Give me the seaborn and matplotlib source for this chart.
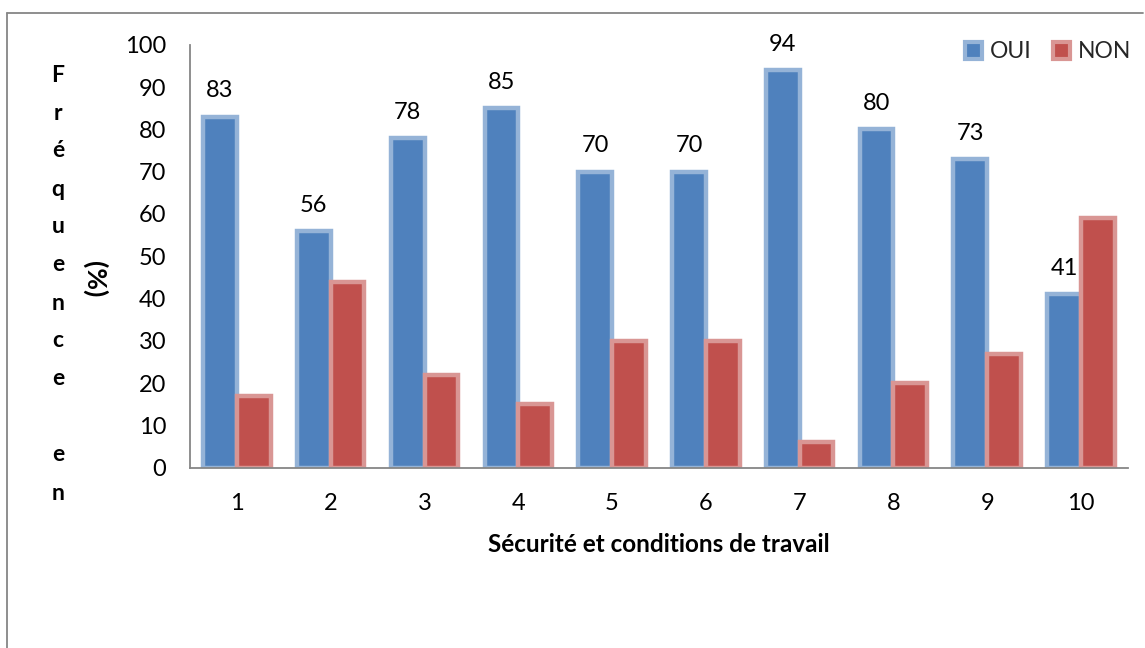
import matplotlib
matplotlib.use("Agg")
import matplotlib.pyplot as plt
import seaborn as sns
import pandas as pd
from matplotlib.patches import Rectangle
from matplotlib.lines import Line2D

# --- data ---------------------------------------------------------------
categories = ["1", "2", "3", "4", "5", "6", "7", "8", "9", "10"]
series = ["OUI", "NON"]
oui = [83, 56, 78, 85, 70, 70, 94, 80, 73, 41]
non = [17, 44, 22, 15, 30, 30, 6, 20, 27, 59]
yticks = [0, 10, 20, 30, 40, 50, 60, 70, 80, 90, 100]
xlabel = "Sécurité et conditions de travail"
ylabel_letters = list("Fréquence") + [""] + list("en")
ylabel_unit = "(%)"

# --- styling ------------------------------------------------------------
fill_colors = ["#4F81BD", "#C0504D"]
edge_colors = ["#95B3D7", "#D99694"]
axis_grey = "#868686"

df = pd.DataFrame({
    "Catégorie": categories * 2,
    "Réponse": [series[0]] * len(oui) + [series[1]] * len(non),
    "Fréquence": oui + non,
})

sns.set_theme(style="white")
plt.rcParams["font.family"] = ["Lato", "DejaVu Sans"]

fig = plt.figure(figsize=(11.45, 6.48), dpi=100)
ax = fig.add_axes([0.166, 0.278, 0.819, 0.653])

sns.barplot(
    data=df, x="Catégorie", y="Fréquence", hue="Réponse",
    order=categories, hue_order=series, palette=fill_colors,
    width=0.72, saturation=1, linewidth=3.2, legend=False, ax=ax,
)
for cont, ec in zip(ax.containers, edge_colors):
    for bar in cont:
        bar.set_edgecolor(ec)

# value labels above the OUI bars
ax.bar_label(ax.containers[0], labels=[str(v) for v in oui],
             padding=11, fontsize=17, color="black")

ax.set_ylim(0, 100)
ax.set_yticks(yticks)
ax.set_xlim(-0.5, len(categories) - 0.5)
ax.tick_params(axis="both", length=0, labelsize=17, colors="black")
ax.tick_params(axis="y", pad=17)
ax.tick_params(axis="x", pad=18)

for side in ["top", "right"]:
    ax.spines[side].set_visible(False)
for side in ["left", "bottom"]:
    ax.spines[side].set_color(axis_grey)
    ax.spines[side].set_linewidth(1.3)

ax.set_xlabel(xlabel, fontsize=17.5, fontweight="bold", labelpad=14, color="black")
ax.set_ylabel("")

# stacked vertical axis title
y_top, step = 1 - 75 / 648, 38 / 648
for i, ch in enumerate(ylabel_letters):
    fig.text(0.0507, y_top - i * step, ch, ha="center", va="center",
             fontsize=16.5, fontweight="bold", color="black")
fig.text(0.083, 1 - 279 / 648, ylabel_unit, ha="center", va="center",
         rotation=-90, fontsize=19, fontweight="bold", color="black")

# legend
handles = [Rectangle((0, 0), 1, 1, facecolor=fc, edgecolor=ec, linewidth=3)
           for fc, ec in zip(fill_colors, edge_colors)]
fig.legend(handles, series, loc="center right", bbox_to_anchor=(1.006, 0.92),
           ncol=2, frameon=False, fontsize=16.5, handlelength=0.75,
           handleheight=0.75, handletextpad=0.35, columnspacing=0.9)

# chart-area frame
fig.add_artist(Line2D([0.0065, 0.0065], [0.0, 0.98], color=axis_grey,
                      linewidth=1.3, transform=fig.transFigure))
fig.add_artist(Line2D([0.0065, 0.998], [0.98, 0.98], color=axis_grey,
                      linewidth=1.3, transform=fig.transFigure))

fig.savefig("out.png", dpi=100, facecolor="white")
